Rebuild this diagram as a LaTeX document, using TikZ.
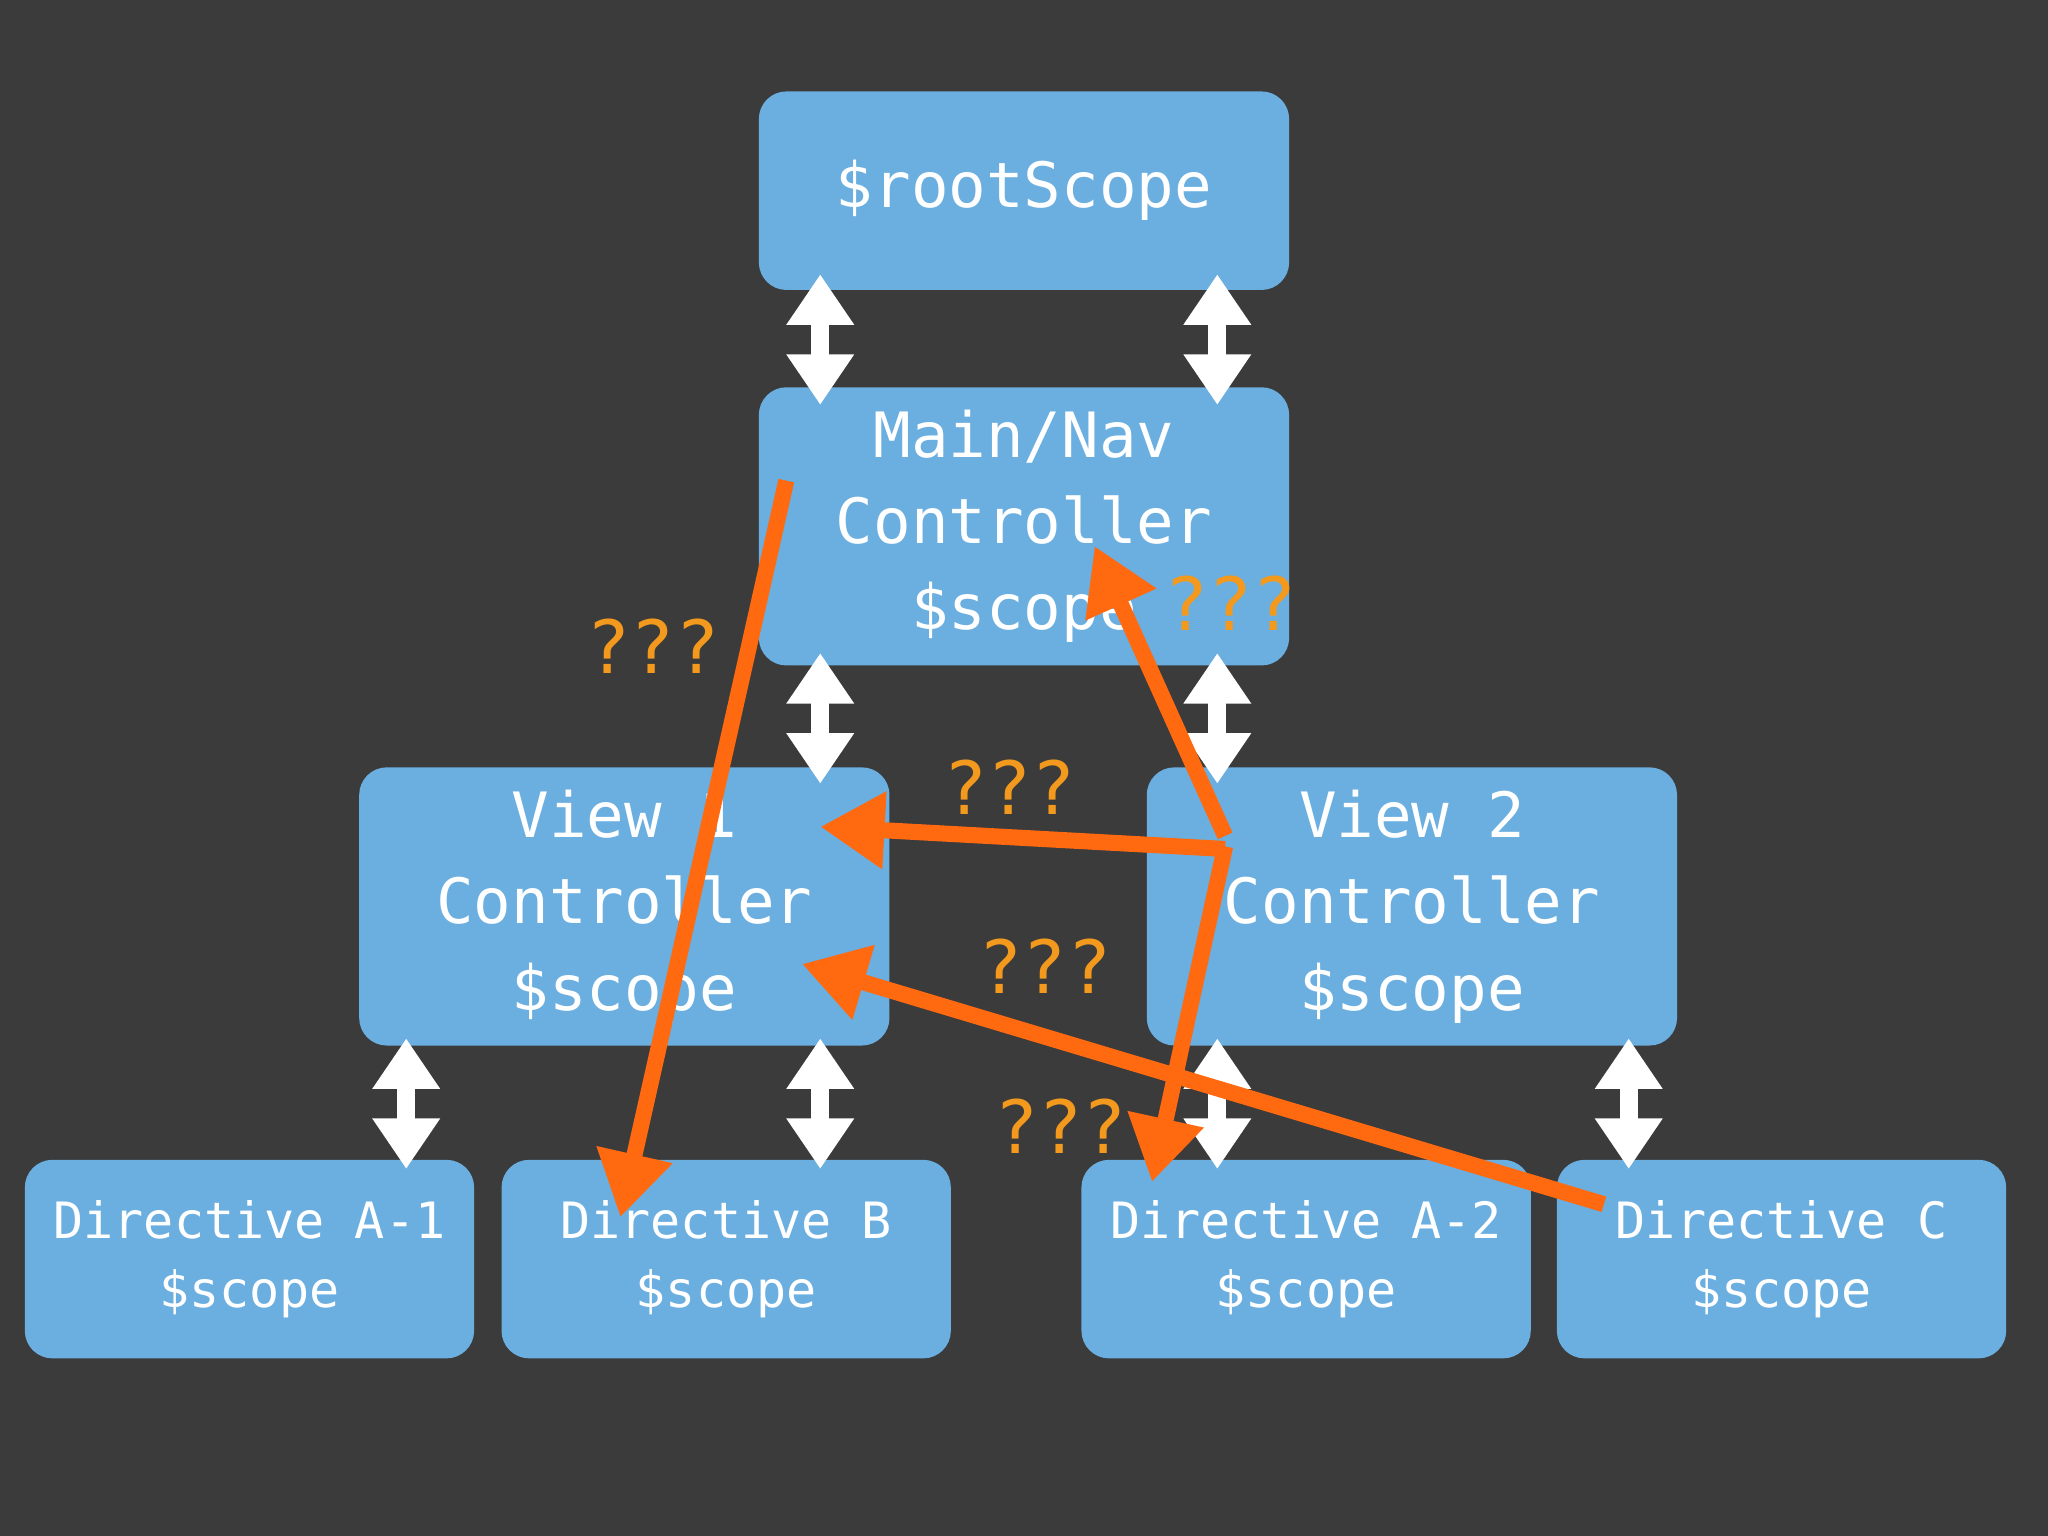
\documentclass[tikz,border=0pt]{standalone}
\usepackage{fontspec}
\setmainfont{DejaVu Sans Mono}
\usetikzlibrary{arrows.meta}
\definecolor{bg}{HTML}{3B3B3B}
\definecolor{boxc}{HTML}{6BAEE0}
\definecolor{org}{HTML}{FF6A10}
\definecolor{qq}{HTML}{F39A1E}
\begin{document}
\begin{tikzpicture}[x=0.01cm,y=-0.01cm,
  box/.style={fill=boxc,rounded corners=6pt,text=white,align=center,inner sep=0pt,font=\fontsize{13.6}{18.8}\selectfont},
  small/.style={box,font=\fontsize{10.9}{15}\selectfont},
  wa/.style={draw=white,line width=4pt,{Triangle[width=14pt,length=11pt]}-{Triangle[width=14pt,length=11pt]}},
  oa/.style={draw=org,line width=3.5pt,-{Triangle[width=16pt,length=14pt]}},
  q/.style={text=qq,font=\fontsize{16}{16}\selectfont}]
\fill[bg] (0,0) rectangle (1568,1176);
\node[box,minimum width=406*0.01cm,minimum height=152*0.01cm] (root) at (784,146) {\$rootScope};
\node[box,minimum width=406*0.01cm,minimum height=213*0.01cm] (main) at (784,403) {Main/Nav\\Controller\\\$scope};
\node[box,minimum width=406*0.01cm,minimum height=213*0.01cm] (v1) at (478,694) {View 1\\Controller\\\$scope};
\node[box,minimum width=406*0.01cm,minimum height=213*0.01cm] (v2) at (1081,694) {View 2\\Controller\\\$scope};
\node[small,minimum width=344*0.01cm,minimum height=152*0.01cm] (da1) at (191,964) {Directive A-1\\\$scope};
\node[small,minimum width=344*0.01cm,minimum height=152*0.01cm] (db) at (556,964) {Directive B\\\$scope};
\node[small,minimum width=344*0.01cm,minimum height=152*0.01cm] (da2) at (1000,964) {Directive A-2\\\$scope};
\node[small,minimum width=344*0.01cm,minimum height=152*0.01cm] (dc) at (1364,964) {Directive C\\\$scope};
\draw[wa] (628,210) -- (628,310);
\draw[wa] (932,210) -- (932,310);
\draw[wa] (628,500) -- (628,600);
\draw[wa] (932,500) -- (932,600);
\draw[wa] (311,795) -- (311,895);
\draw[wa] (628,795) -- (628,895);
\draw[wa] (932,795) -- (932,895);
\draw[wa] (1247,795) -- (1247,895);
\coordinate (s1) at (602,368);
\coordinate (e1) at (475,932);
\coordinate (h) at (938,640);
\coordinate (e2) at (838,418);
\coordinate (e3) at (628,633);
\coordinate (e4) at (882,905);
\coordinate (s5) at (1228,922);
\coordinate (e5) at (614,738);
\draw[oa] (s1) -- (e1);
\draw[oa] (h) -- (e2);
\draw[oa] (938,650) -- (e3);
\draw[oa] (938,648) -- (e4);
\draw[oa] (s5) -- (e5);
\node[q] at (500,495) {???};
\node[q] at (942,462) {???};
\node[q] at (773,603) {???};
\node[q] at (800,740) {???};
\node[q] at (812,862) {???};
\end{tikzpicture}
\end{document}
